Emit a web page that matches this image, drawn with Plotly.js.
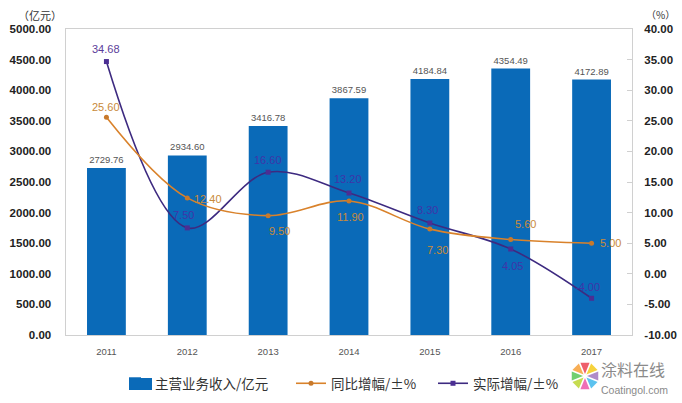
<!DOCTYPE html>
<html><head><meta charset="utf-8">
<script src="https://cdn.plot.ly/plotly-3.0.1.min.js"></script>
<style>html,body{margin:0;padding:0;background:#fff}</style></head>
<body><div id="c" style="width:682px;height:403px"></div>
<script>
var years=['2011','2012','2013','2014','2015','2016','2017'];
var revenue=[2729.76,2934.60,3416.78,3867.59,4184.84,4354.49,4172.89];
var yoy=[25.60,12.40,9.50,11.90,7.30,5.60,5.00];
var actual=[34.68,7.5,16.6,13.2,8.3,4.05,-4.0];
var leftTicks=[0,500,1000,1500,2000,2500,3000,3500,4000,4500,5000];
var rightTicks=[-10,-5,0,5,10,15,20,25,30,35,40];
var names=['主营业务收入/亿元','同比增幅/±%','实际增幅/±%'];
var W=682,H=403,mL=66,mR=50,mT=29,mB=45,plotBottom=335;
var font='"Liberation Sans","Noto Sans CJK SC",sans-serif';
var cjk='"Noto Sans CJK SC",sans-serif';
function px(x){return (x-mL)/(W-mL-mR)}
function py(y){return (H-mB-y)/(H-mT-mB)}
var yoyShift=[[0,10],[21,-1],[11,-15],[1,-16],[8,-21],[15,16],[19,0]];
var actShift=[[0,13],[-4,13],[0,12],[-1,14],[-2,13],[2,-17],[-4,11]];
function lbl(i,y,s,color,sh){return {x:i,y:y,xref:'x',yref:'y2',text:s,showarrow:false,xshift:sh[0],yshift:sh[1],font:{size:11,color:color,family:font}}}
var ann=[];
years.forEach(function(yr,i){
 ann.push(lbl(i,actual[i],actual[i].toFixed(2),i==0?'#5b3d9a':'#3f35a8',actShift[i]));
 ann.push(lbl(i,yoy[i],yoy[i].toFixed(2),'#c98a3a',yoyShift[i]));
});
function note(x,y,s,size,anchor,fam,color){return {xref:'paper',yref:'paper',x:px(x),y:py(y),xanchor:anchor,yanchor:'middle',text:s,showarrow:false,font:{size:size,color:color,family:fam}}}
ann.push(note(40,15,'（亿元）',11,'center',cjk,'#333'));
ann.push(note(660,15,'（%）',10,'center',cjk,'#333'));
ann.push(note(599,369,'涂料在线',16,'left',cjk,'#8a8a8a'));
ann.push(note(599,390,'Coatingol.com',10.5,'left',font,'#8a8a8a'));
var petals=['#ee5f6b','#f6d23c','#b08bc8','#5cc2ef','#ef6fb5','#c6dc50','#6fcf6f','#f8ae55'];
var shapes=petals.map(function(c,i){
 var cx=585,cy=376,r=14,a0=(i-0.5)*Math.PI/4+0.06-Math.PI/2,a1=(i+0.5)*Math.PI/4-0.06-Math.PI/2,ri=2;
 var p=function(a,rr){return px(cx+rr*Math.cos(a))+','+py(cy+rr*Math.sin(a))};
 return {type:'path',xref:'paper',yref:'paper',layer:'above',line:{width:0},fillcolor:c,
  path:'M'+p((a0+a1)/2,ri)+'L'+p(a0,r)+'L'+p(a1,r)+'Z'};
});
shapes.push({type:'rect',xref:'paper',yref:'paper',layer:'above',line:{width:0},fillcolor:'#0a6ab8',x0:px(129),x1:px(152),y0:py(378),y1:py(390)});
var traces=[
{type:'bar',x:years,y:revenue,name:names[0],legendrank:1,legendwidth:131,marker:{color:'#0a6ab8'},width:0.48,
 text:revenue.map(function(v){return v.toFixed(2)}),textposition:'outside',cliponaxis:false,
 textfont:{size:9.5,color:'#555',family:font},yaxis:'y'},
{type:'scatter',mode:'lines+markers',x:years,y:actual,name:names[2],legendrank:3,yaxis:'y2',
 line:{color:'#3d2a80',width:1.6,shape:'spline',smoothing:1},marker:{color:'#4b2e93',size:5,symbol:'square'},cliponaxis:false},
{type:'scatter',mode:'lines+markers',x:years,y:yoy,name:names[1],legendrank:2,legendwidth:97,yaxis:'y2',
 line:{color:'#d9822b',width:1.6,shape:'spline',smoothing:1},marker:{color:'#c8792b',size:5,symbol:'circle'},cliponaxis:false}
];
var layout={width:W,height:H,paper_bgcolor:'#fff',plot_bgcolor:'#fff',showlegend:true,bargap:0.52,
 margin:{l:mL,r:mR,t:mT,b:mB},font:{family:font},
 xaxis:{type:'category',categoryorder:'array',categoryarray:years,range:[-0.5,6.5],anchor:'y',tickfont:{size:9.5,color:'#555'},showline:true,linecolor:'#d0d0d0',linewidth:1,ticks:'',showgrid:false,mirror:true,ticklabelstandoff:8},
 yaxis:{domain:[py(plotBottom),1],range:[0,5000],tickvals:leftTicks,ticktext:leftTicks.map(function(v){return v.toFixed(2)}),tickfont:{size:11.5,color:'#222',weight:'bold'},showgrid:false,showline:true,linecolor:'#d0d0d0',linewidth:1.5,zeroline:false,ticks:'',ticklabelstandoff:11},
 yaxis2:{domain:[py(plotBottom),1],overlaying:'y',side:'right',range:[-10,40],tickvals:rightTicks,ticktext:rightTicks.map(function(v){return v.toFixed(2)}),tickfont:{size:11.5,color:'#222',weight:'bold'},showgrid:false,showline:true,linecolor:'#d0d0d0',linewidth:1,zeroline:false,ticks:'inside',ticklen:5,tickcolor:'#d0d0d0',ticklabelstandoff:9},
 legend:{orientation:'h',xref:'paper',yref:'container',x:px(115),y:(H-368)/H,xanchor:'left',yanchor:'top',font:{size:13.5,color:'#333',family:cjk},traceorder:'normal',itemwidth:30,bgcolor:'rgba(0,0,0,0)'},
 annotations:ann,shapes:shapes};
Plotly.newPlot('c',traces,layout,{displayModeBar:false,staticPlot:true});
</script></body></html>
